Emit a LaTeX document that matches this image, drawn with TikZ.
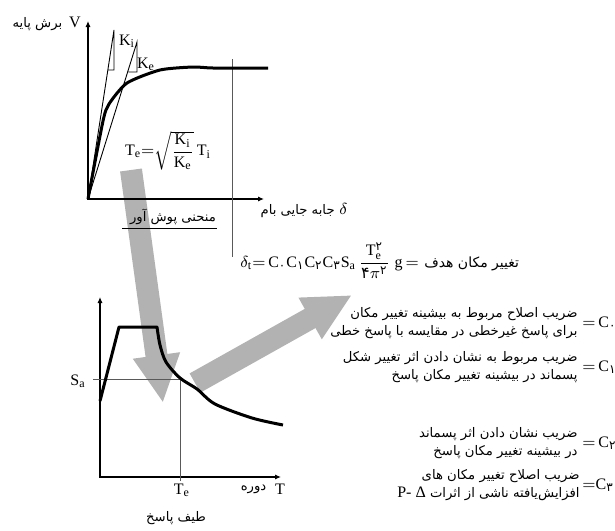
\documentclass[tikz,border=0pt]{standalone}
\usepackage{amsmath}
\usepackage{fontspec}
\setmainfont{Liberation Serif}
\newfontfamily\fafont[Script=Arabic]{DejaVu Sans}
\TeXXeTstate=1
\usetikzlibrary{arrows.meta,positioning}
\newcommand{\rl}[1]{\beginR #1\endR}
\newcommand{\fd}[1]{\text{\fafont #1}}

\begin{document}
\begin{tikzpicture}[x=0.5pt, y=-0.5pt,
    axis/.style={line width=0.7pt, {Latex[length=3pt,width=2.6pt]}-{Latex[length=3pt,width=2.6pt]}},
    curve/.style={line width=1.5pt, line join=round},
    thinline/.style={line width=0.45pt},
    guide/.style={line width=0.5pt, black!65},
    bigarrow/.style={line width=11pt, black!30, -{Triangle[length=24pt,width=22pt]}},
    lat/.style={font=\fontsize{8}{9}\selectfont, inner sep=0pt},
    fa/.style={font=\fafont\fontsize{6.6}{8.6}\selectfont, inner sep=0pt},
    fablock/.style={fa, align=right},
]
\useasboundingbox (0,0) rectangle (615,530);

% gray arrows between the plots
\coordinate (a1s) at (131,170);
\coordinate (a1e) at (163,403);
\coordinate (a2s) at (195,383);
\coordinate (a2e) at (352,295);
\draw[bigarrow] (a1s) -- (a1e);
\draw[bigarrow] (a2s) -- (a2e);

% pushover curve
\coordinate (o1) at (88,199);
\coordinate (vtop) at (88,21);
\coordinate (dend) at (264,199);
\draw[axis] (vtop) -- (o1) -- (dend);
\draw[guide] (232,59) -- (232,257);
\draw[curve] plot[smooth, tension=0.4] coordinates {(88,199) (103,121) (109,104) (127,83) (160,70) (193,67) (213,68) (268,68)};
\draw[thinline] (o1) -- (114,30) -- (114,70) -- (107.8,70);
\draw[thinline] (o1) -- (137,42) -- (137,72) -- (128.7,72);
\node[lat] (ki) at (127,41) {$\mathrm{K}_{\mathrm{i}}$};
\node[lat] (ke) at (146,64) {$\mathrm{K}_{\mathrm{e}}$};
\node[lat] (teq) at (168,151) {$\mathrm{T}_{\mathrm{e}}{=}\sqrt{\dfrac{\mathrm{K}_{\mathrm{i}}}{\mathrm{K}_{\mathrm{e}}}}\,\mathrm{T}_{\mathrm{i}}$};
\node[lat, anchor=base east] (vlab) at (81,27) {V};
\node[fa, left=3pt of vlab.base west, anchor=base east] (base) {\rl{برش پایه}};
\node[lat, anchor=base east] (dlab) at (348,214) {$\delta$};
\node[fa, left=2pt of dlab.base west, anchor=base east] (roof) {\rl{جابه جایی بام}};
\node[fa] (push) at (173,217) {\rl{منحنی پوش آور}};
\draw[thinline] (122,228) -- (217,228);

% response spectrum
\coordinate (o2) at (100,477);
\coordinate (stop) at (100,297);
\coordinate (tend) at (281,477);
\draw[axis] (stop) -- (o2) -- (tend);
\draw[guide] (93,379) -- (180,379) -- (180,481);
\draw[curve] (100,401) -- (119,327) -- (157,327) -- plot[smooth, tension=0.5] coordinates {(157,327) (160,345) (166,362) (180,378) (197,389) (215,404) (252,418) (283,425)};
\node[lat] (sa) at (78,381) {$\mathrm{S}_{\mathrm{a}}$};
\node[lat] (te) at (182,490) {$\mathrm{T}_{\mathrm{e}}$};
\node[lat] (tlab) at (280,489) {T};
\node[fa, left=4pt of tlab] (period) {\rl{دوره}};
\node[fa] (spec) at (176,518) {\rl{طیف پاسخ}};

% target displacement
\node[lat, anchor=base west] (target) at (240,267) {$\delta_{\mathrm{t}}{=}\,\mathrm{C}_{\fd{۰}}\mathrm{C}_{\fd{۱}}\mathrm{C}_{\fd{۲}}\mathrm{C}_{\fd{۳}}\mathrm{S}_{\mathrm{a}}\,\dfrac{\mathrm{T}^{\fd{۲}}_{\mathrm{e}}}{\fd{۴}\pi^{\fd{۲}}}\;\mathrm{g}\,{=}\,$\,{\fafont\fontsize{7}{8}\selectfont\rl{تغییر مکان هدف}}};

% coefficients
\node[lat, anchor=west] (c0) at (582,323) {${=}\,\mathrm{C}_{\fd{۰}}$};
\node[fablock, left=2pt of c0] (c0txt) {\rl{ضریب اصلاح مربوط به بیشینه تغییر مکان}\\\rl{برای پاسخ غیرخطی در مقایسه با پاسخ خطی}};
\node[lat, anchor=west] (c1) at (582,367) {${=}\,\mathrm{C}_{\fd{۱}}$};
\node[fablock, left=2pt of c1] (c1txt) {\rl{ضریب مربوط به نشان دادن اثر تغییر شکل}\\\rl{پسماند در بیشینه تغییر مکان پاسخ}};
\node[lat, anchor=west] (c2) at (582,443) {${=}\,\mathrm{C}_{\fd{۲}}$};
\node[fablock, left=2pt of c2] (c2txt) {\rl{ضریب نشان دادن اثر پسماند}\\\rl{در بیشینه تغییر مکان پاسخ}};
\node[lat, anchor=west] (c3) at (582,485) {${=}\mathrm{C}_{\fd{۳}}$};
\node[fablock, left=1pt of c3] (c3txt) {\rl{ضریب اصلاح تغییر مکان های}\\\rl{افزایش‌یافته ناشی از اثرات {\rmfamily\fontsize{8}{8.6}\selectfont\beginL P- Δ\endL}}};
\end{tikzpicture}
\end{document}
